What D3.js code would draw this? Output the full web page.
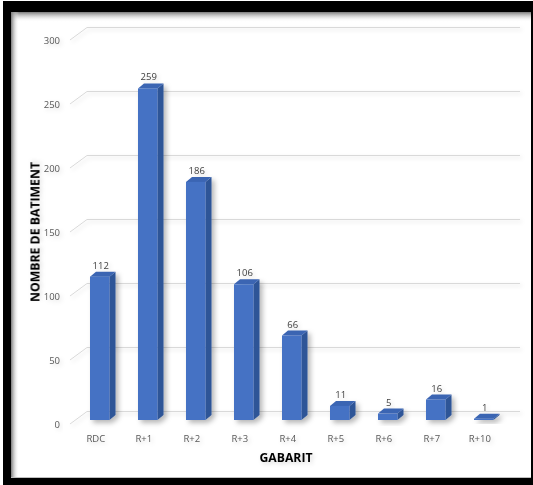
<!DOCTYPE html>
<html>
<head>
<meta charset="utf-8">
<script src="https://cdn.jsdelivr.net/npm/d3@7/dist/d3.min.js"></script>
<style>
  html, body { margin: 0; padding: 0; background: #fff; }
  text { font-family: 'Open Sans', 'Liberation Sans', sans-serif; }
</style>
</head>
<body>
<div id="chart"></div>
<script>
// data
const categories = ['RDC', 'R+1', 'R+2', 'R+3', 'R+4', 'R+5', 'R+6', 'R+7', 'R+10'];
const counts = [112, 259, 186, 106, 66, 11, 5, 16, 1];
const yTicks = [0, 50, 100, 150, 200, 250, 300];
const xTitle = 'GABARIT';
const yTitle = 'NOMBRE DE BATIMENT';

const W = 533, H = 485;
const depthX = 6, depthY = 5; // 3d offset of the bars
const barW = 19.5;

const svg = d3.select('#chart').append('svg')
  .attr('width', W)
  .attr('height', H);

const defs = svg.append('defs');

// soft drop shadow like excel
const shadow = defs.append('filter').attr('id', 'shadow')
  .attr('x', '-50%').attr('y', '-50%').attr('width', '200%').attr('height', '200%');
shadow.append('feDropShadow')
  .attr('dx', 3).attr('dy', 3).attr('stdDeviation', 2.5)
  .attr('flood-color', '#000').attr('flood-opacity', 0.28);

const txtShadow = defs.append('filter').attr('id', 'tshadow')
  .attr('x', '-50%').attr('y', '-50%').attr('width', '200%').attr('height', '200%');
txtShadow.append('feDropShadow')
  .attr('dx', 2).attr('dy', 2).attr('stdDeviation', 2)
  .attr('flood-color', '#000').attr('flood-opacity', 0.15);

const gTop = defs.append('linearGradient').attr('id', 'gTop')
  .attr('x1', 0).attr('y1', 0).attr('x2', 0).attr('y2', 1);
gTop.append('stop').attr('offset', 0).attr('stop-color', '#7a7a7a').attr('stop-opacity', 1);
gTop.append('stop').attr('offset', 1).attr('stop-color', '#fff').attr('stop-opacity', 0);

const gLeft = defs.append('linearGradient').attr('id', 'gLeft')
  .attr('x1', 0).attr('y1', 0).attr('x2', 1).attr('y2', 0);
gLeft.append('stop').attr('offset', 0).attr('stop-color', '#7a7a7a').attr('stop-opacity', 1);
gLeft.append('stop').attr('offset', 1).attr('stop-color', '#fff').attr('stop-opacity', 0);

// frame ///////////////////////
svg.append('rect').attr('x', 3).attr('y', 1).attr('width', 530).attr('height', 484).attr('fill', '#000');
svg.append('rect').attr('x', 11).attr('y', 12).attr('width', 520).attr('height', 466).attr('fill', '#fff');
svg.append('rect').attr('x', 11).attr('y', 12).attr('width', 520).attr('height', 10).attr('fill', 'url(#gTop)');
svg.append('rect').attr('x', 11).attr('y', 12).attr('width', 8).attr('height', 466).attr('fill', 'url(#gLeft)');
svg.append('line').attr('x1', 11).attr('x2', 531).attr('y1', 477.5).attr('y2', 477.5)
  .attr('stroke', '#bfbfbf').attr('stroke-width', 1);

// scales
const x = d3.scaleBand().domain(categories).range([75.75, 507.75]);
const y = d3.scaleLinear().domain([0, 300]).range([420, 36]);

// gridlines (diagonal from the label, then along the back wall)
const grid = svg.append('g').attr('filter', 'url(#tshadow)');
grid.selectAll('path')
  .data(yTicks)
  .enter()
  .append('path')
  .attr('d', d => `M70,${y(d) + 4}L87,${y(d) - 8.5}H520`)
  .attr('fill', 'none')
  .attr('stroke', '#d9d9d9')
  .attr('stroke-width', 1);

svg.append('g').selectAll('text')
  .data(yTicks)
  .enter()
  .append('text')
  .attr('x', 60)
  .attr('y', d => y(d) + 7.5)
  .attr('text-anchor', 'end')
  .attr('font-size', 9.5)
  .attr('fill', '#595959')
  .attr('filter', 'url(#tshadow)')
  .text(d => d);

// bars ///////////////////////
const bars = svg.append('g').selectAll('g')
  .data(counts)
  .enter()
  .append('g')
  .attr('filter', 'url(#shadow)');

const bx = (d, i) => x(categories[i]) + x.bandwidth() / 2 - barW / 2;

// side face
bars.append('path')
  .attr('d', (d, i) => {
    const x0 = bx(d, i) + barW, y0 = y(d), y1 = y(0);
    return `M${x0},${y1}L${x0},${y0}L${x0 + depthX},${y0 - depthY}L${x0 + depthX},${y1 - depthY}Z`;
  })
  .attr('fill', '#2f5597');

// top face
bars.append('path')
  .attr('d', (d, i) => {
    const x0 = bx(d, i), y0 = y(d);
    return `M${x0},${y0}L${x0 + depthX},${y0 - depthY}L${x0 + barW + depthX},${y0 - depthY}L${x0 + barW},${y0}Z`;
  })
  .attr('fill', '#3b65b3');

// front face
bars.append('rect')
  .attr('x', (d, i) => bx(d, i))
  .attr('y', d => y(d))
  .attr('width', barW)
  .attr('height', d => y(0) - y(d))
  .attr('fill', '#4472c4');

// value labels
svg.append('g').selectAll('text')
  .data(counts)
  .enter()
  .append('text')
  .attr('x', (d, i) => bx(d, i) + barW / 2 + 1)
  .attr('y', d => y(d) - 8)
  .attr('text-anchor', 'middle')
  .attr('font-size', 9.5)
  .attr('fill', '#404040')
  .attr('filter', 'url(#tshadow)')
  .text(d => d);

// category labels
svg.append('g').selectAll('text')
  .data(categories)
  .enter()
  .append('text')
  .attr('x', d => x(d) + x.bandwidth() / 2 - 4)
  .attr('y', 441.5)
  .attr('text-anchor', 'middle')
  .attr('font-size', 9.5)
  .attr('fill', '#595959')
  .attr('filter', 'url(#tshadow)')
  .text(d => d);

// axis titles
svg.append('text')
  .attr('x', 286)
  .attr('y', 462)
  .attr('text-anchor', 'middle')
  .attr('font-size', 13)
  .attr('font-weight', 'bold')
  .attr('fill', '#000')
  .attr('textLength', 53)
  .attr('lengthAdjust', 'spacingAndGlyphs')
  .attr('filter', 'url(#tshadow)')
  .text(xTitle);

svg.append('text')
  .attr('transform', 'translate(39.5,232)rotate(-90)')
  .attr('text-anchor', 'middle')
  .attr('font-size', 12.5)
  .attr('font-weight', 'bold')
  .attr('fill', '#000')
  .attr('textLength', 140)
  .attr('lengthAdjust', 'spacingAndGlyphs')
  .attr('filter', 'url(#tshadow)')
  .text(yTitle);
</script>
</body>
</html>
